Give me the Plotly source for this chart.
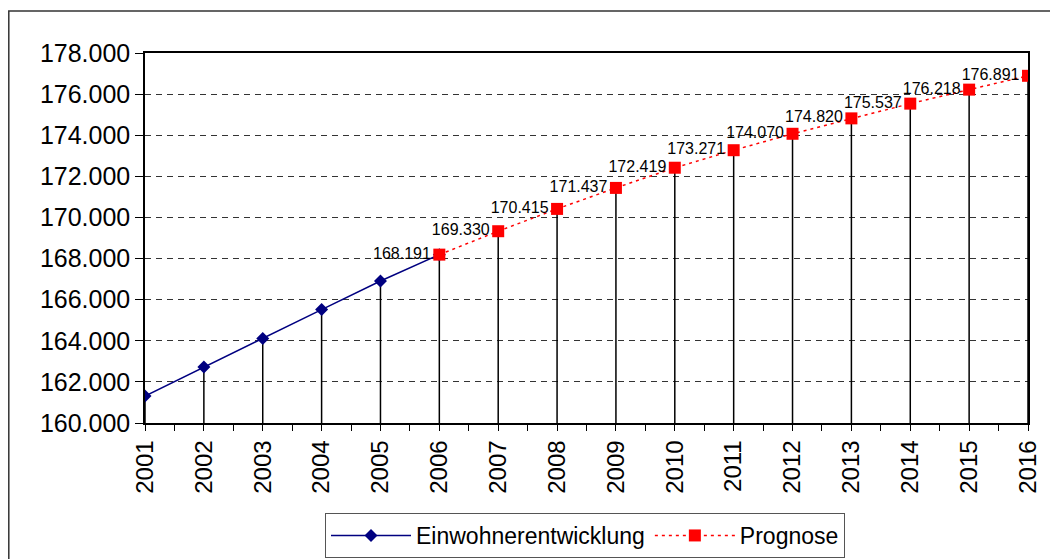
import plotly.graph_objects as go

years_hist = [2001, 2002, 2003, 2004, 2005, 2006]
values_hist = [161314, 162725, 164107, 165518, 166910, 168191]

years_prog = [2006, 2007, 2008, 2009, 2010, 2011, 2012, 2013, 2014, 2015, 2016]
values_prog = [168191, 169330, 170415, 171437, 172419, 173271, 174070, 174820, 175537, 176218, 176891]

year_ticks = list(range(2001, 2017))
y_ticks = list(range(160000, 178001, 2000))

FONT = "Arial, Liberation Sans, sans-serif"

def de_fmt(v):
    return f"{v:,}".replace(",", ".")

# drop lines from every point down to the x axis
all_years = years_hist[:-1] + years_prog
all_vals = values_hist[:-1] + values_prog
drop_x, drop_y = [], []
for x, v in zip(all_years, all_vals):
    drop_x += [x, x, None]
    drop_y += [y_ticks[0], v, None]

fig = go.Figure()
fig.add_trace(go.Scatter(x=drop_x, y=drop_y, mode="lines",
                         line=dict(color="black", width=1.5),
                         showlegend=False, hoverinfo="skip"))
fig.add_trace(go.Scatter(x=years_hist, y=values_hist, mode="lines+markers",
                         name="Einwohnerentwicklung",
                         line=dict(color="#000080", width=1.5),
                         marker=dict(symbol="diamond", size=10, color="#000080")))
fig.add_trace(go.Scatter(x=years_prog, y=values_prog, mode="lines+markers+text",
                         name="Prognose",
                         text=[de_fmt(v) for v in values_prog],
                         textposition="middle left",
                         textfont=dict(family=FONT, size=16, color="black"),
                         line=dict(color="#FF0000", width=1.5, dash="3px,4px"),
                         marker=dict(symbol="square", size=12, color="#FF0000")))

W, H = 1050, 551
L, R, T, B = 137, 30, 45, 136
PW, PH = W - L - R, H - T - B

fig.update_layout(
    width=W, height=H,
    margin=dict(l=L, r=R, t=T, b=B, autoexpand=False),
    paper_bgcolor="white", plot_bgcolor="white",
    separators=",.",
    font=dict(family=FONT, color="black"),
    showlegend=True,
    legend=dict(orientation="h", x=(577 - L) / PW, xanchor="center",
                y=(T + PH - 527.5) / PH, yanchor="middle",
                font=dict(size=23, family=FONT, color="black"),
                bordercolor="#555", borderwidth=1, bgcolor="white",
                itemwidth=80, tracegroupgap=0),
    xaxis=dict(range=[2001, 2016], tickmode="array", tickvals=year_ticks,
               ticktext=[str(y) for y in year_ticks], tickangle=-90,
               tickfont=dict(size=24, family=FONT, color="black"),
               showgrid=False, zeroline=False, showline=True, linecolor="black",
               linewidth=1.5, mirror=True, ticks="outside", ticklen=6,
               tickcolor="black", automargin=False,
               minor=dict(dtick=1, tick0=2001.5, ticks="outside", ticklen=6,
                          tickcolor="black", showgrid=False)),
    yaxis=dict(range=[160000, 178000], tickmode="array", tickvals=y_ticks,
               tickformat=",d",
               tickfont=dict(size=25, family=FONT, color="black"),
               showgrid=True, gridcolor="#333", griddash="6px,5px", gridwidth=1,
               zeroline=False, showline=True, linecolor="black", linewidth=1.5,
               mirror=True, ticks="outside", ticklen=8, tickcolor="black",
               automargin=False),
    shapes=[dict(type="rect", xref="paper", yref="paper",
                 x0=(0.8 - L) / PW, x1=(W + 20 - L) / PW,
                 y0=(T + PH - (H + 20)) / PH, y1=(T + PH - 3) / PH,
                 line=dict(color="#333", width=1.5), layer="below")],
)

fig.write_html("out.html")
